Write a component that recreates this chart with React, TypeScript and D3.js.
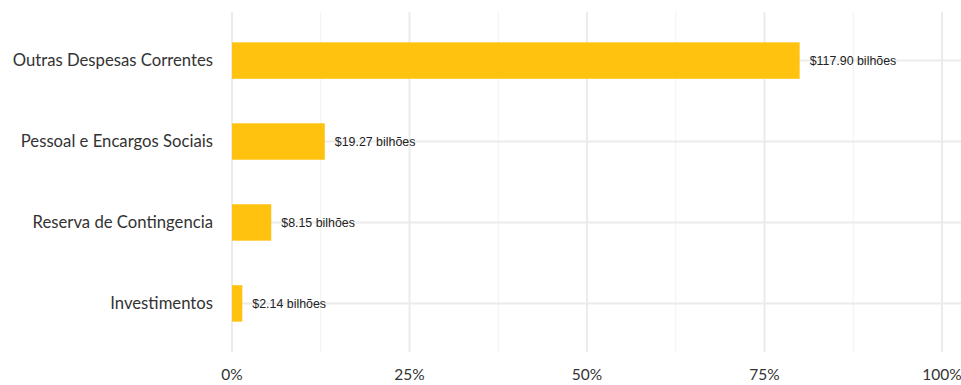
import React from "react";
import * as d3 from "d3";

const categories = ["Outras Despesas Correntes", "Pessoal e Encargos Sociais", "Reserva de Contingencia", "Investimentos"];
const values = [117.90, 19.27, 8.15, 2.14];
const valueLabels = ["$117.90 bilhões", "$19.27 bilhões", "$8.15 bilhões", "$2.14 bilhões"];
const majorTicks = [0, 0.25, 0.5, 0.75, 1];
const minorTicks = [0.125, 0.375, 0.625, 0.875];
const tickLabels = ["0%", "25%", "50%", "75%", "100%"];

const W = 961;
const H = 385;
const panelTop = 12;
const panelBottom = 352;
const x0 = 232;
const x1 = 942;

export default function App() {
  const total = d3.sum(values);
  const x = d3.scaleLinear().domain([0, 1]).range([x0, x1]);
  // discrete axis with ggplot-style 0.6 expansion; first category at top
  const pos = d3.scaleLinear().domain([0.4, categories.length + 0.6]).range([panelBottom, panelTop]);
  const yOf = (i: number) => pos(categories.length - i);
  const unit = Math.abs(pos(1) - pos(0));
  const barH = unit * 0.45;

  return (
    <div style={{ position: "absolute", left: 0, top: 0 }}>
      <svg width={W} height={H} style={{ display: "block", background: "#fff" }}>
        {minorTicks.map((t) => (
          <line key={"mn" + t} x1={x(t)} x2={x(t)} y1={panelTop} y2={panelBottom} stroke="#f2f2f2" strokeWidth={1} />
        ))}
        {majorTicks.map((t) => (
          <line key={"mj" + t} x1={x(t)} x2={x(t)} y1={panelTop} y2={panelBottom} stroke="#ebebeb" strokeWidth={2} />
        ))}
        {categories.map((c, i) => (
          <line key={"h" + c} x1={x0} x2={W} y1={yOf(i)} y2={yOf(i)} stroke="#ebebeb" strokeWidth={2} />
        ))}
        {categories.map((c, i) => (
          <rect key={"b" + c} x={x(0)} y={yOf(i) - barH / 2} width={x(values[i] / total) - x(0)} height={barH} fill="#FFC20F" />
        ))}
        {categories.map((c, i) => (
          <text key={"v" + c} x={x(values[i] / total) + 10} y={yOf(i)} dy="0.35em" fontFamily="'Liberation Sans', Arial, sans-serif" fontSize={12.4} fill="#222">
            {valueLabels[i]}
          </text>
        ))}
        {categories.map((c, i) => (
          <text key={"c" + c} x={213} y={yOf(i)} dy="0.35em" textAnchor="end" fontFamily="Lato, sans-serif" fontSize={16.7} fill="#333">
            {c}
          </text>
        ))}
        {majorTicks.map((t, i) => (
          <text key={"t" + t} x={x(t)} y={375} dy="0.35em" textAnchor="middle" fontFamily="Lato, sans-serif" fontSize={15.5} fill="#333">
            {tickLabels[i]}
          </text>
        ))}
      </svg>
    </div>
  );
}
